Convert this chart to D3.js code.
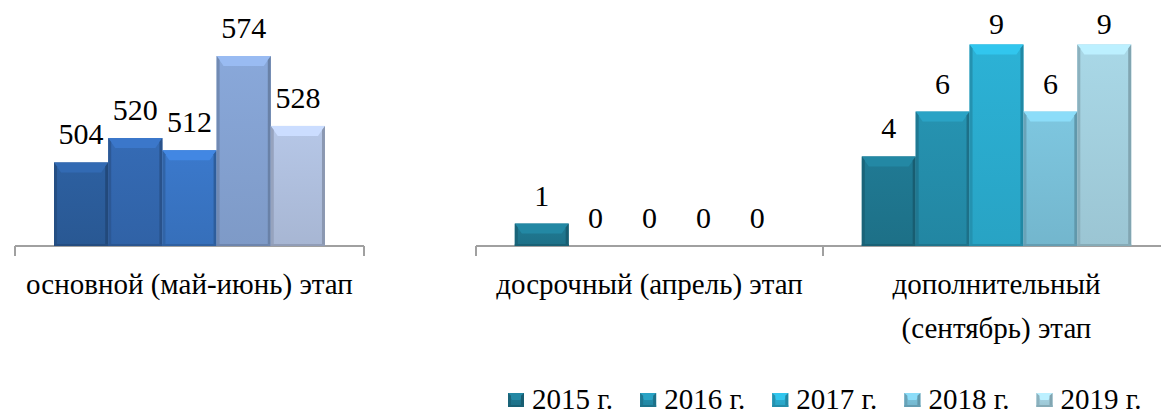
<!DOCTYPE html>
<html>
<head>
<meta charset="utf-8">
<script src="https://cdn.jsdelivr.net/npm/d3@7"></script>
<style>
  body { margin: 0; background: #fff; }
</style>
</head>
<body>
<div id="chart"></div>
<script>
const years = ["2015 г.", "2016 г.", "2017 г.", "2018 г.", "2019 г."];

// left panel: main stage
const mainCategories = ["основной (май-июнь) этап"];
const mainValues = [[504, 520, 512, 574, 528]];

// right panel: early and additional stages
const otherCategories = ["досрочный (апрель) этап", "дополнительный|(сентябрь) этап"];
const otherValues = [
    [1, 0, 0, 0, 0],
    [4, 6, 9, 6, 9]
];

const blueColors = ["#2c5e9e", "#3469b2", "#3a77c8", "#87a5d6", "#b3c3e3"];
const tealColors = ["#1f7891", "#2590ae", "#2bafd2", "#7cc3dc", "#a6d4e3"];

const width = 1161, height = 414;
const baseY = 246;
const fontFamily = "'Liberation Serif', 'Noto Serif', 'DejaVu Serif', 'Times New Roman', serif";

const svg = d3.select("#chart").append("svg")
    .attr("width", width)
    .attr("height", height)
    .style("display", "block")
    .attr("font-family", fontFamily);

const defs = svg.append("defs");

let drawBar = (g, x, y, w, h, c) => {
    const col = d3.color(c);
    const id = "g" + c.slice(1);
    if (defs.select("#" + id).empty()) {
        const lg = defs.append("linearGradient").attr("id", id)
            .attr("x1", 0).attr("y1", 0).attr("x2", 0).attr("y2", 1);
        lg.append("stop").attr("offset", 0).attr("stop-color", col.brighter(0.05));
        lg.append("stop").attr("offset", 1).attr("stop-color", col.darker(0.2));
    }
    const b = Math.min(7, w / 4), bt = Math.min(10, h / 2);
    g.append("rect")
        .attr("x", x).attr("y", y).attr("width", w).attr("height", h)
        .attr("fill", `url(#${id})`);
    // top bevel
    g.append("polygon")
        .attr("points", [[x, y], [x + w, y], [x + w - b, y + bt], [x + b, y + bt]].join(" "))
        .attr("fill", col.brighter(0.35));
    // left / right edges
    g.append("polygon")
        .attr("points", [[x, y], [x + 3, y + bt * 0.4], [x + 3, y + h], [x, y + h]].join(" "))
        .attr("fill", col.darker(0.5));
    g.append("polygon")
        .attr("points", [[x + w, y], [x + w - 3, y + bt * 0.4], [x + w - 3, y + h], [x + w, y + h]].join(" "))
        .attr("fill", col.darker(0.7));
    g.append("rect")
        .attr("x", x).attr("y", y + h - 2).attr("width", w).attr("height", 2)
        .attr("fill", col.darker(0.6));
};

let drawPanel = (categories, values, colors, xRange, yScale) => {
    const x0 = d3.scaleBand().domain(categories).range(xRange).padding(0);
    const x1 = d3.scaleBand().domain(years).range([0, x0.bandwidth()])
        .paddingInner(0).paddingOuter(0.72);

    const axis = svg.append("g").attr("transform", `translate(0,${baseY})`)
        .call(d3.axisBottom(x0).tickSize(0).tickFormat(""));
    axis.select(".domain").remove();
    axis.append("line")
        .attr("x1", xRange[0]).attr("x2", xRange[1])
        .attr("stroke", "#a0a0a0").attr("stroke-width", 2);
    const bounds = categories.map(c => x0(c)).concat([xRange[1]]);
    axis.selectAll(".bnd").data(bounds).join("line")
        .attr("class", "bnd")
        .attr("x1", d => d).attr("x2", d => d)
        .attr("y1", 0).attr("y2", 10)
        .attr("stroke", "#a0a0a0").attr("stroke-width", 2);

    categories.forEach((cat, ci) => {
        const g = svg.append("g");
        values[ci].forEach((v, yi) => {
            const bx = x0(cat) + x1(years[yi]);
            const by = yScale(v);
            if (v > 0) drawBar(g, bx, by, x1.bandwidth(), baseY - by, colors[yi]);
            g.append("text")
                .attr("x", bx + x1.bandwidth() / 2)
                .attr("y", Math.max(by - 18, 34))
                .attr("text-anchor", "middle")
                .attr("font-size", 30)
                .text(v);
        });
        const lines = cat.split("|");
        svg.append("text")
            .attr("x", x0(cat) + x0.bandwidth() / 2)
            .attr("y", 294)
            .attr("text-anchor", "middle")
            .attr("font-size", 29)
            .selectAll("tspan").data(lines).join("tspan")
                .attr("x", x0(cat) + x0.bandwidth() / 2)
                .attr("dy", (d, i) => i ? 44 : 0)
                .text(d => d);
    });
};

const yMain = d3.scaleLinear().domain([449, 599]).range([baseY, 18]);
const yOther = d3.scaleLinear().domain([0, 10]).range([baseY, 22]);

drawPanel(mainCategories, mainValues, blueColors, [15, 364], yMain);
drawPanel(otherCategories, otherValues, tealColors, [476, 1170], yOther);

// legend
const legend = svg.append("g").attr("transform", "translate(508,0)");
let lx = 0;
years.forEach((yr, i) => {
    const item = legend.append("g").attr("transform", `translate(${lx},0)`);
    drawBar(item, 0, 393, 16, 14, tealColors[i]);
    const t = item.append("text")
        .attr("x", 24).attr("y", 409)
        .attr("font-size", 29)
        .text(yr);
    lx += 24 + t.node().getComputedTextLength() + 27;
});
</script>
</body>
</html>
